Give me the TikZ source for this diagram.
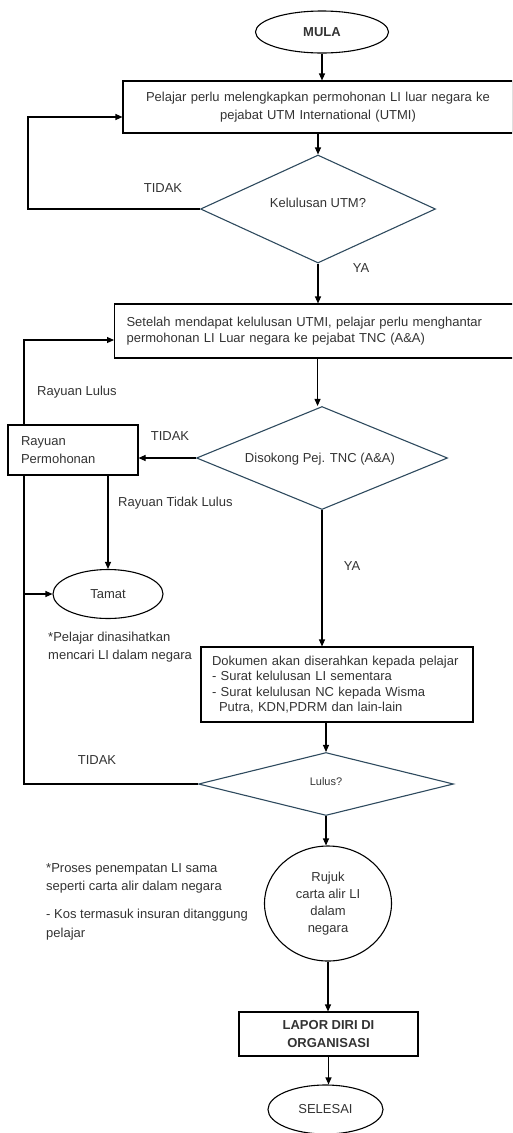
\documentclass[tikz,border=0pt]{standalone}
\usepackage{fontspec}
\setmainfont{Liberation Sans}
\usetikzlibrary{shapes.geometric,arrows.meta}
\definecolor{txt}{HTML}{333333}
\definecolor{dia}{HTML}{2E4A5E}
\begin{document}
\begin{tikzpicture}[x=1pt,y=-1pt,
  every node/.style={text=txt, font=\fontsize{13}{16}\selectfont},
  box/.style={draw=black, line width=1.1pt, rectangle, inner sep=0pt},
  term/.style={draw=black, line width=1.1pt, ellipse, inner sep=0pt},
  dec/.style={draw=dia, line width=1.1pt, diamond, inner sep=0pt},
  arr/.style={-{Triangle[length=7pt,width=6pt]}, line width=1.1pt},
  lin/.style={line width=1.1pt},
  lbl/.style={inner sep=0pt}]
\useasboundingbox (0,0) rectangle (512,1133);
\clip (0,0) rectangle (512,1133);

% main nodes
\node[term,minimum width=133,minimum height=42,font=\bfseries\fontsize{13}{16}\selectfont] (mula) at (322,32) {MULA};
\node[box,minimum width=390,minimum height=52,text width=380,align=center,font=\fontsize{13}{18}\selectfont] (b1) at (318,107) {Pelajar perlu melengkapkan permohonan LI luar negara ke\\pejabat UTM International (UTMI)};
\node[dec,minimum width=235,minimum height=108] (d1) at (318,209) {};
\node[lbl] (d1t) at (318,203) {Kelulusan UTM?};
\node[box,anchor=west,minimum height=54,text width=382,inner xsep=12,align=left,font=\fontsize{13}{16}\selectfont] (b2) at (114,331) {Setelah mendapat kelulusan UTMI, pelajar perlu menghantar\\permohonan LI Luar negara ke pejabat TNC (A\&A)};
\node[dec,minimum width=251,minimum height=103] (d2) at (322,458) {};
\node[lbl] (d2t) at (320,459) {Disokong Pej. TNC (A\&A)};
\node[box,minimum width=130,minimum height=50,text width=104,inner xsep=13,align=left,font=\fontsize{13}{18}\selectfont] (ray) at (73,450) {Rayuan\\Permohonan};
\node[term,minimum width=110,minimum height=49] (tamat) at (108,594) {Tamat};
\node[box,minimum width=272,minimum height=75,text width=250,inner xsep=11,align=left,font=\fontsize{13}{15.5}\selectfont] (b3) at (337,684.5) {Dokumen akan diserahkan kepada pelajar\\- Surat kelulusan LI sementara\\- Surat kelulusan NC kepada Wisma\\\hspace*{7pt}Putra, KDN,PDRM dan lain-lain};
\node[dec,minimum width=255,minimum height=63] (d3) at (326,784) {};
\node[lbl,font=\fontsize{11}{13}\selectfont] (d3t) at (326,782) {Lulus?};
\node[term,minimum width=127,minimum height=115,align=center,font=\fontsize{13}{17}\selectfont] (rujuk) at (328,903.5) {Rujuk\\carta alir LI\\dalam\\negara};
\node[box,minimum width=179,minimum height=44,align=center,font=\bfseries\fontsize{13}{18}\selectfont] (b4) at (328.5,1034) {LAPOR DIRI DI\\ORGANISASI};
\node[term,minimum width=115,minimum height=49] (sel) at (325.5,1109.5) {SELESAI};

% labels
\node[lbl] (t1) at (163,188) {TIDAK};
\node[lbl] (y1) at (361,268) {YA};
\node[lbl,anchor=west] (rl) at (37,392) {Rayuan Lulus};
\node[lbl] (t2) at (170,436) {TIDAK};
\node[lbl,anchor=west] (rtl) at (118,503) {Rayuan Tidak Lulus};
\node[lbl] (y2) at (352,566) {YA};
\node[lbl,anchor=north west,align=left,font=\fontsize{13}{18}\selectfont] (n1) at (48,632) {*Pelajar dinasihatkan\\mencari LI dalam negara};
\node[lbl] (t3) at (97,760) {TIDAK};
\node[lbl,anchor=north west,align=left,font=\fontsize{13}{18}\selectfont] (n2) at (46,863) {*Proses penempatan LI sama\\seperti carta alir dalam negara};
\node[lbl,anchor=north west,align=left,font=\fontsize{13}{19}\selectfont] (n3) at (46,909) {- Kos termasuk insuran ditanggung\\pelajar};

% helper coordinates
\coordinate (c1) at (28,117);
\coordinate (c2) at (24,340);

% connectors
\draw[arr] (mula.south) -- (mula.south |- b1.north);
\draw[arr] (b1.south) -- (d1.north);
\draw[arr] (d1.west) -| (c1) -- (c1 -| b1.west);
\draw[arr] (d1.south) -- (d1.south |- b2.north);
\draw[arr] (b2.south) -- (b2.south |- d2.north);
\draw[arr] (d2.west) -- (d2.west -| ray.east);
\draw[arr] (ray.north -| c2) -- (c2) -- (c2 -| b2.west);
\draw[arr] (tamat.north |- ray.south) -- (tamat.north);
\draw[lin] (d3.west) -| (ray.south -| c2);
\draw[arr] (c2 |- tamat.west) -- (tamat.west);
\draw[arr] (d2.south) -- (d2.south |- b3.north);
\draw[arr] (b3.south -| d3.north) -- (d3.north);
\draw[arr] (d3.south) -- (d3.south |- rujuk.north);
\draw[arr] (rujuk.south) -- (rujuk.south |- b4.north);
\draw[arr] (b4.south) -- (b4.south |- sel.north);
\end{tikzpicture}
\end{document}
